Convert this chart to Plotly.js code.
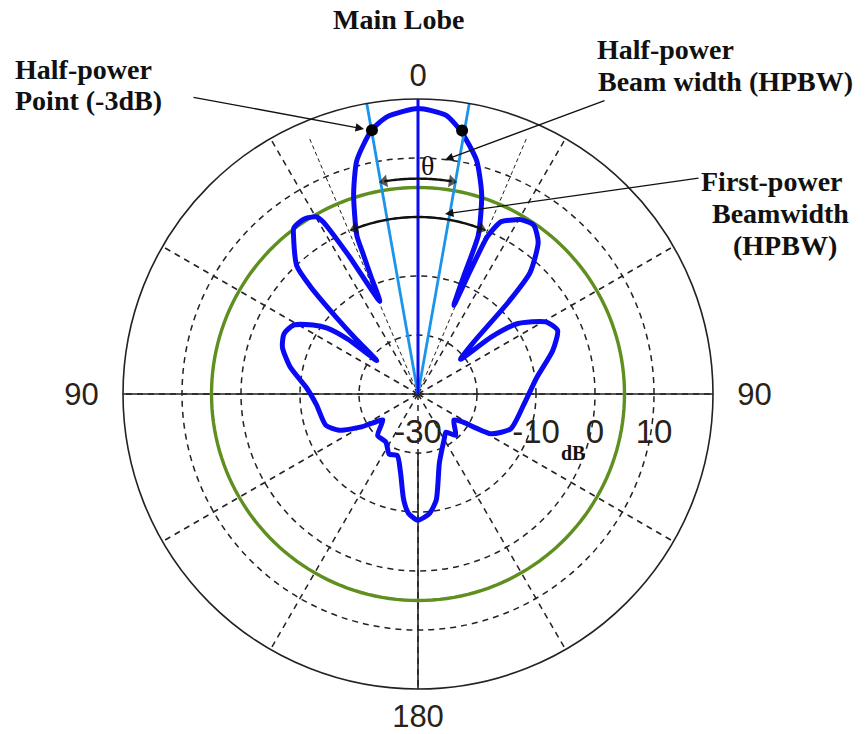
<!DOCTYPE html>
<html>
<head>
<meta charset="utf-8">
<script src="https://cdn.plot.ly/plotly-3.0.1.min.js"></script>
<style>html,body{margin:0;padding:0;background:#fff;}#chart{width:867px;height:734px;}</style>
</head>
<body>
<div id="chart"></div>
<script>
// ---------- data (theta in degrees, clockwise from top; r in dB) ----------
const patternTheta = [0, 5.7, 9.2, 14.1, 17.7, 20.8, 21.2, 22, 23, 23.8, 25.7, 28.9, 30.5, 34.4, 38.4, 42.7, 44.6, 46.8, 50.7, 52.1, 54.7, 60.6, 65.5, 72.1, 82.2, 95.9, 110.5, 118.5, 122.2, 126, 137.7, 143.8, 149.6, 162.7, 170.2, 174.4, 180,
  184.5, 187.7, 192.6, 198.6, 205.7, 213.7, 224.2, 233.5, 236.4, 239.8, 245.3, 251.3, 263.9, 273.1, 281.8, 289, 294.2, 299, 303.3, 306, 308, 309, 311.5, 313.2, 315, 316.6, 321.9, 323.1, 325.6, 327.6, 330.2, 331.1, 333.4, 337.6, 338.2, 338.6, 338.9, 342.1, 345.3, 350, 353.7, 360];
const patternDb = [18.4, 17.5, 15.2, 10.8, 5.5, -1.2, -8.6, -13.8, -7.2, -0.8, 2.4, 3.7, 4.3, 4.7, 2.8, -2, -8.4, -16.7, -20.7, -14.3, -9.4, -5.1, -4, -6, -9.7, -12, -13.2, -15.9, -21.2, -22.5, -20.5, -22, -21.2, -17.8, -11.8, -9.7, -8.6,
  -9.7, -11.9, -16.4, -19, -18.7, -20.2, -20.2, -22.6, -21.5, -18.9, -15.3, -13.5, -12.7, -11.1, -7.9, -5.7, -5.1, -5.9, -8.7, -11, -15, -21, -16, -10.9, -4.1, -0.1, 4.2, 5.1, 5.4, 5.3, 4.6, 3.4, -3.8, -13, -8.5, -4.5, -1.2, 5.5, 10.9, 15.4, 17.3, 18.4];

const radialRange = [-30, 20];
const radialTickVals = [-30, -20, -10, 0, 10];
const radialTickText = ['-30', '', '-10', '0', '10'];
const angleTickVals = [0, 30, 60, 90, 120, 150, 180, 210, 240, 270, 300, 330];
const angleTickText = ['0', '', '', '\u00a0\u00a090', '', '', '180', '', '', '90\u00a0\u00a0', '', ''];

const halfPowerTheta = [350.1, 9.5];     // half-power (-3 dB) points
const halfPowerDb = [15.4, 15.3];
const hpbwLineTheta = [-10, 10];         // light-blue HPBW lines
const fnbwLineTheta = [-23, 23];         // thin dashed first-null lines
const fnbwLineDb = 17;
const referenceCircleDb = 5;             // green circle
const hpbwArcTheta = [-9, 9];
const hpbwArcDb = 6.5;
const fnbwArcTheta = [-21, 21];
const fnbwArcDb = 0;

// ---------- helpers ----------
function circleTrace(rVal, color, width) {
  const th = [], rr = [];
  for (let a = 0; a <= 360; a += 2) { th.push(a); rr.push(rVal); }
  return {type: 'scatterpolar', mode: 'lines', theta: th, r: rr,
          line: {color: color, width: width}, hoverinfo: 'skip'};
}
function arcArrowTraces(thetaEnds, rVal) {
  const mid = (thetaEnds[0] + thetaEnds[1]) / 2;
  return thetaEnds.map(function (end) {
    const th = [], rr = [], sz = [];
    const n = 20;
    for (let i = 0; i <= n; i++) { th.push(mid + (end - mid) * i / n); rr.push(rVal); sz.push(i === n ? 11 : 0); }
    return {type: 'scatterpolar', mode: 'lines+markers', theta: th, r: rr,
            line: {color: '#111', width: 2.4},
            marker: {symbol: 'triangle-up', size: sz, color: '#111', angleref: 'previous', line: {width: 0}},
            hoverinfo: 'skip'};
  });
}

const rMin = radialRange[0], rMax = radialRange[1];
const traces = [];
// solid black axis lines (90 / 270 and 180)
traces.push({type: 'scatterpolar', mode: 'lines', theta: [270, 270, 90], r: [rMax, rMin, rMax],
  line: {color: '#222', width: 1.6}, hoverinfo: 'skip'});
traces.push({type: 'scatterpolar', mode: 'lines', theta: [180, 180], r: [radialTickVals[1], rMax],
  line: {color: '#222', width: 1.6}, hoverinfo: 'skip'});
// thin dashed first-null lines
fnbwLineTheta.forEach(function (t) {
  traces.push({type: 'scatterpolar', mode: 'lines', theta: [t, t], r: [rMin, fnbwLineDb],
    line: {color: '#222', width: 1, dash: '4px,3px'}, hoverinfo: 'skip'});
});
// green reference circle
traces.push(circleTrace(referenceCircleDb, '#5f8f1f', 3.4));
// radiation pattern
traces.push({type: 'scatterpolar', mode: 'lines', theta: patternTheta, r: patternDb,
  line: {color: '#0a0af5', width: 5, shape: 'spline', smoothing: 0.6}, hoverinfo: 'skip'});
// light-blue HPBW lines
hpbwLineTheta.forEach(function (t) {
  traces.push({type: 'scatterpolar', mode: 'lines', theta: [t, t], r: [rMin, rMax],
    line: {color: '#1b95ec', width: 2.8}, hoverinfo: 'skip'});
});
// main-lobe axis
traces.push({type: 'scatterpolar', mode: 'lines', theta: [0, 0], r: [rMin, rMax],
  line: {color: '#0a0af5', width: 3}, hoverinfo: 'skip'});
// arcs with arrowheads
arcArrowTraces(hpbwArcTheta, hpbwArcDb).forEach(function (t) { traces.push(t); });
arcArrowTraces(fnbwArcTheta, fnbwArcDb).forEach(function (t) { traces.push(t); });
// half-power points
traces.push({type: 'scatterpolar', mode: 'markers', theta: halfPowerTheta, r: halfPowerDb,
  marker: {color: '#000', size: 12}, hoverinfo: 'skip'});

const W = 867, H = 734, CX = 418, CY = 394, R = 295;
const px = function (x) { return x / W; };
const py = function (y) { return 1 - y / H; };

const serifBold = {family: 'Liberation Serif, Times New Roman, serif', size: 28, color: '#111', weight: 'bold'};
function label(text, x, y, anchor, size) {
  const f = Object.assign({}, serifBold);
  if (size) f.size = size;
  return {text: '<b>' + text + '</b>', x: px(x), y: py(y), xref: 'paper', yref: 'paper',
          xanchor: anchor, yanchor: 'middle', showarrow: false, font: f};
}
function arrow(hx, hy, tx, ty) {
  return {text: '', x: px(hx), y: py(hy), xref: 'paper', yref: 'paper', showarrow: true,
          ax: tx - hx, ay: ty - hy, arrowhead: 2, arrowsize: 1.3, arrowwidth: 1.3, arrowcolor: '#111'};
}

const sansFont = {family: 'Liberation Sans, Arial, sans-serif', size: 31, color: '#2a2218'};

const layout = {
  width: W, height: H,
  margin: {l: 0, r: 0, t: 0, b: 0},
  paper_bgcolor: '#fff',
  showlegend: false,
  polar: {
    domain: {x: [px(CX - R), px(CX + R)], y: [py(CY + R), py(CY - R)]},
    bgcolor: '#fff',
    radialaxis: {
      range: radialRange, tickmode: 'array', tickvals: radialTickVals, ticktext: radialTickText,
      angle: 0, side: 'clockwise', showline: false,
      ticks: 'outside', ticklen: 9, tickcolor: 'rgba(0,0,0,0)',
      tickfont: Object.assign({}, sansFont, {size: 33}),
      gridcolor: '#222', gridwidth: 1.5, griddash: '6px,5px'
    },
    angularaxis: {
      rotation: 90, direction: 'clockwise', tickmode: 'array',
      tickvals: angleTickVals, ticktext: angleTickText,
      showline: true, linecolor: '#222', linewidth: 1.6,
      ticks: '', tickfont: sansFont,
      gridcolor: '#222', gridwidth: 1.5, griddash: '6px,5px'
    }
  },
  annotations: [
    label('Main Lobe', 398, 20, 'center'),
    label('Half-power', 13, 70, 'left'),
    label('Point (-3dB)', 13, 101, 'left'),
    label('Half-power', 595, 49, 'left'),
    label('Beam width (HPBW)', 596, 81, 'left'),
    label('First-power', 772, 181, 'center'),
    label('Beamwidth', 780, 214, 'center'),
    label('(HPBW)', 785, 246, 'center'),
    {text: 'θ', x: px(427), y: py(148), xref: 'paper', yref: 'paper', showarrow: false,
     font: {family: 'Liberation Serif, serif', size: 28, color: '#111'}},
    label('dB', 573, 453, 'center', 20),
    arrow(364, 129, 192, 97),
    arrow(445, 160, 606, 100),
    arrow(445, 214, 700, 178)
  ]
};

Plotly.newPlot('chart', traces, layout, {staticPlot: true, displayModeBar: false});
</script>
</body>
</html>
